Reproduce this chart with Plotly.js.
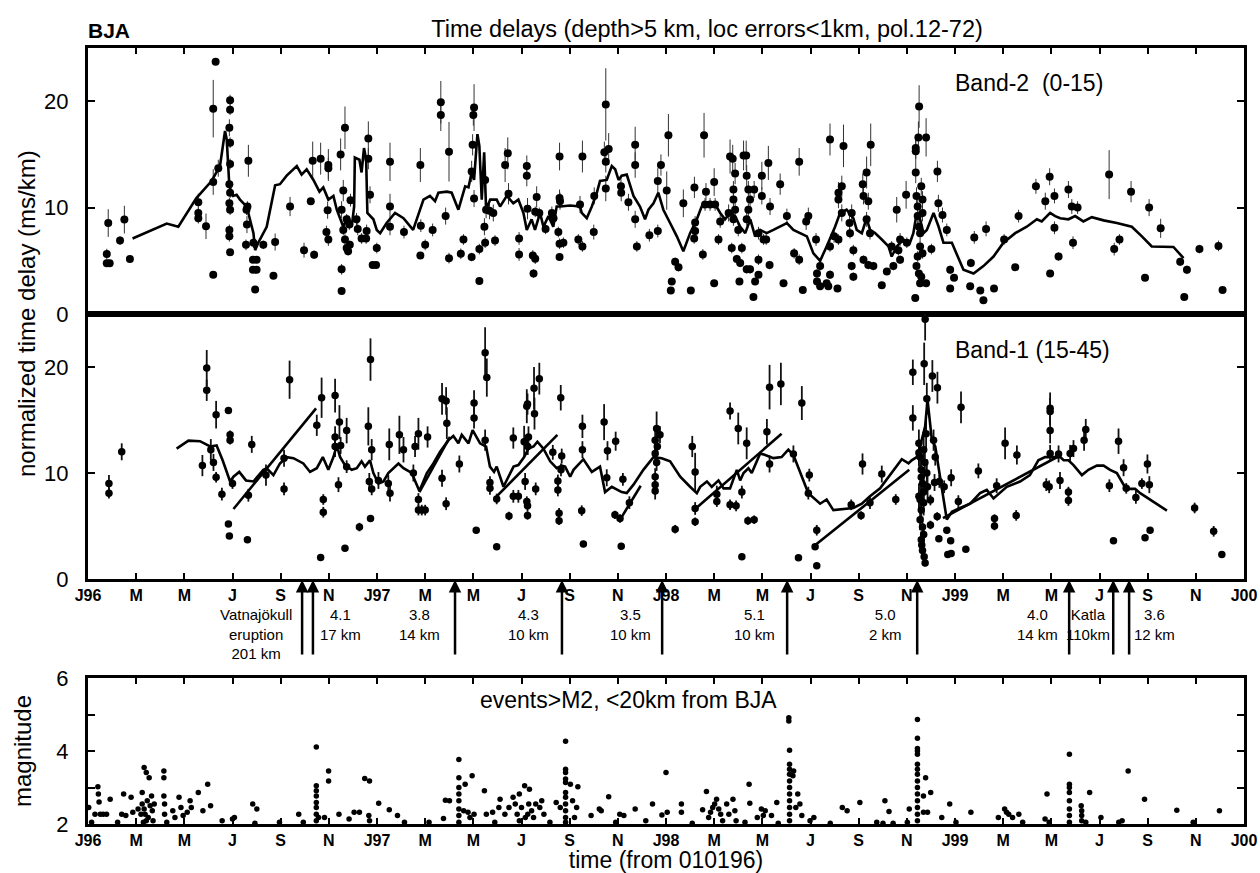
<!DOCTYPE html>
<html><head><meta charset="utf-8">
<script src="https://cdn.plot.ly/plotly-3.0.1.min.js"></script>
<style>html,body{margin:0;padding:0;background:#fff;}</style>
</head><body><div id="chart" style="width:1260px;height:873px;"></div>
<script>
// time axis: months since 1 Jan 1996
const tick_vals = [0,2,4,6,8,10,12,14,16,18,20,22,24,26,28,30,32,34,36,38,40,42,44,46,48];
const tick_text = ['J96','M','M','J','S','N','J97','M','M','J','S','N','J98','M','M','J','S','N','J99','M','M','J','S','N','J00'];

// Band-2 (0-15): time delays with error bars
const band2_t = [
0.84,0.78,0.78,0.9,1.33,1.51,1.74,4.58,4.58,4.58,
4.9,5.2,5.3,5.2,5.2,5.41,5.9,5.9,5.87,5.9,
5.9,5.87,5.9,5.87,5.9,5.87,5.87,5.9,6.66,6.62,
6.58,6.6,6.56,6.85,7.0,6.85,7.0,6.94,6.87,7.28,
7.77,7.7,8.39,8.97,9.25,9.39,9.33,9.66,9.98,9.98,
9.95,9.9,9.98,10.49,10.67,10.6,10.53,10.53,10.53,10.6,
10.67,10.74,10.8,10.87,10.74,10.85,10.9,11.15,11.2,11.36,
11.55,11.57,11.64,11.64,11.71,11.82,11.96,11.99,12.54,12.54,
12.54,13.12,13.8,13.8,14.0,13.82,14.31,14.65,14.65,14.99,
14.85,14.99,15.48,15.59,15.93,16.03,16.0,15.97,15.93,16.03,
16.25,16.25,16.46,16.49,16.49,16.53,16.67,16.83,16.9,17.32,
17.43,17.46,17.9,17.9,18.22,18.22,18.25,18.47,18.57,18.5,
18.63,18.57,18.74,19.0,19.26,19.33,19.58,19.58,19.6,19.53,
19.58,19.58,19.74,20.36,20.53,20.53,20.43,21.0,21.02,21.5,
21.44,21.62,21.5,21.5,22.13,22.14,22.44,22.72,22.72,22.72,
22.79,23.31,23.66,23.66,23.79,24.03,24.1,24.38,24.52,24.24,
24.2,24.72,25.03,25.18,25.21,25.21,25.17,25.53,25.58,25.66,
25.62,25.83,26.04,26.0,26.0,26.18,26.25,26.6,26.66,26.77,
26.87,26.8,26.8,26.87,26.8,27.0,26.73,26.94,27.08,27.15,
27.05,27.22,27.33,27.35,27.42,27.49,27.42,27.35,27.35,27.49,
27.63,27.7,27.84,27.66,27.98,27.98,27.84,27.84,28.05,28.16,
28.25,28.3,28.32,28.74,28.88,29.02,29.32,29.53,29.53,29.68,
29.82,29.91,30.23,30.27,30.27,30.4,30.74,31.12,30.67,30.4,
30.81,30.81,30.81,31.37,31.16,31.16,31.3,30.98,31.16,31.3,
31.71,31.62,31.64,31.78,31.71,31.78,32.17,32.2,32.33,32.4,
32.5,32.33,32.47,32.2,32.4,32.61,32.96,33.17,33.44,33.37,
33.72,33.65,33.58,33.72,34.0,33.97,34.35,34.37,34.37,34.37,
34.51,34.48,34.8,34.4,34.45,34.45,34.5,34.55,34.6,34.65,
34.45,34.5,34.6,34.8,34.55,34.4,34.65,34.55,34.65,35.02,
35.27,35.31,35.48,35.66,35.8,35.8,35.96,36.66,36.63,36.8,
37.05,37.18,37.29,37.62,38.04,38.5,38.64,39.36,39.75,39.93,
39.95,40.13,40.13,40.3,40.71,40.85,41.09,40.9,42.4,42.61,
42.83,43.31,43.89,44.06,44.54,45.35,45.63,45.52,46.15,46.94,
47.11];
const band2_v = [
8.55,5.63,4.78,4.78,6.9,8.87,5.16,10.5,9.5,9.0,
8.24,19.3,23.7,3.7,12.4,13.7,20.1,19.2,17.5,16.1,
14.1,12.2,11.4,10.4,9.8,7.9,7.3,5.8,14.4,10.1,
9.8,8.4,6.5,5.1,5.1,4.15,4.15,2.3,6.7,6.5,
6.76,3.6,10.1,6.0,10.6,5.57,14.4,14.6,14.0,13.7,
9.75,7.7,7.0,15.0,17.5,11.6,9.8,4.2,2.17,7.9,
7.0,6.2,5.9,6.5,8.9,8.4,10.7,8.9,8.0,7.1,
7.1,7.8,16.5,14.6,11.2,4.6,4.6,6.2,14.3,10.1,
8.2,7.7,14.0,5.5,6.5,8.3,7.9,19.9,18.7,15.25,
9.2,5.25,5.66,7.0,5.35,19.4,18.7,15.9,13.4,10.85,
6.1,3.1,8.2,6.7,12.6,9.8,9.7,9.5,6.9,14.0,
15.1,11.3,7.1,5.6,13.9,13.0,9.9,5.5,5.2,3.8,
11.0,9.6,9.5,8.0,9.5,9.0,14.8,10.9,10.6,7.7,
6.6,5.35,6.7,7.0,6.35,14.8,10.3,7.7,11.1,19.7,
15.2,15.5,14.3,11.8,12.0,11.4,10.5,15.9,14.0,8.9,
6.35,7.4,7.8,12.5,14.0,11.6,16.8,4.9,4.4,3.05,
2.2,10.4,2.2,11.9,8.6,7.8,7.1,5.6,16.8,11.5,
10.3,10.3,10.3,12.4,2.9,7.0,8.7,9.5,14.8,14.6,
13.2,11.7,10.75,9.8,8.9,7.9,6.2,5.16,4.8,6.2,
3.05,14.9,14.9,13.0,11.7,10.75,9.8,8.9,4.2,4.2,
1.6,3.05,3.7,11.7,13.0,11.1,7.6,5.1,7.0,7.0,
14.2,4.6,10.1,12.2,2.9,9.2,5.7,14.3,5.1,2.26,
8.7,9.2,7.0,3.8,3.05,2.6,2.6,2.4,2.9,4.5,
3.7,6.35,16.4,15.8,11.4,10.75,12.0,7.3,7.0,9.5,
9.5,8.55,7.6,6.0,4.5,3.5,12.2,11.1,13.3,10.6,
15.9,8.9,7.6,5.1,4.6,4.5,2.7,4.0,4.5,6.35,
5.1,6.0,9.8,7.0,6.7,11.2,1.5,13.3,15.3,15.6,
19.5,16.6,16.6,11.1,10.1,9.2,8.2,7.6,12.0,10.75,
5.4,3.8,3.5,2.9,2.9,4.5,5.7,6.35,9.5,6.1,
13.4,10.4,9.3,7.9,4.15,2.4,3.4,4.8,2.6,7.2,
2.2,1.3,8.0,2.4,7.0,4.4,9.2,12.0,10.6,12.9,
3.8,11.1,8.1,5.4,11.7,10.1,10.0,6.7,13.1,6.1,
7.0,11.5,3.4,10.0,8.05,4.9,4.15,1.6,6.1,6.4,
2.26];
const band2_e = [
1.3,0.5,0.3,0.3,0.4,1.3,0.3,0.8,0.5,0.5,
1.2,2.7,0,0,1.2,0.8,0.5,0.5,0.8,0.5,
0.5,0.8,0.5,0.5,0.5,0.5,0.5,0,1.5,0.5,
0.5,0.8,0.5,0.3,0.3,0.3,0.3,0,0.5,0.4,
0.8,0,0.9,0.7,0.3,0.4,1.8,1.5,1.5,1.0,
0.8,0.6,0.6,1.5,2.0,1.0,0.8,0.5,0,0.5,
0.5,0.5,0.4,0.4,0.5,0.5,0.6,0.6,0.6,0.5,
0.5,0.6,1.6,1.0,0.8,0.3,0.3,0.5,1.8,1.2,
0.8,0.6,1.6,0,0.5,0.6,0.6,2.0,1.5,2.8,
0.8,0.5,0.5,0.5,0.4,2.2,1.0,1.0,1.0,0.8,
0.5,0,0.8,0.5,1.2,0.8,0.8,0.8,0.5,1.6,
1.5,1.0,0.6,0.6,1.0,1.0,1.0,0.5,0.5,0.4,
1.0,0.5,0.5,0.5,0.6,0.6,1.3,0.8,0.8,0.5,
0.5,0,0.5,0.5,0.5,1.5,0.8,0.7,0.8,3.4,
1.0,1.5,1.0,1.2,0.8,0.8,0.8,1.7,1.2,0.8,
0.5,0.6,0.6,1.2,1.0,1.8,2.0,0.4,0.4,0,
0,1.3,0,1.0,0.6,0.6,0.5,0.5,2.1,0.8,
0.6,0.6,0.6,1.3,0,0.5,0.6,0.8,1.6,1.3,
1.0,0.8,0.8,0.8,0.6,0.6,0.5,0.4,0.4,0.5,
0,1.4,1.4,1.0,0.8,0.8,0.6,0.6,0.4,0.4,
0,0,0,0.8,1.3,0.8,0.6,0.5,0.5,0.5,
1.6,0.4,0.8,1.0,0,0.7,0.5,1.3,0.5,0,
0.8,0.8,0.6,0.4,0.3,0,0,0,0,0.4,
0.4,0.5,1.5,2.0,1.0,0.8,1.0,0.6,0.5,0.8,
0.8,0.7,0.5,0.5,0.4,0.4,1.0,0.8,1.5,0.8,
2.0,0.7,0.6,0.4,0.4,0.4,0,0.3,0.4,0.5,
0.4,0.5,1.2,0.6,0.5,1.3,0,1.0,1.0,1.0,
2.0,1.5,1.8,0.8,0.8,0.8,0.8,0.8,0.8,0.8,
0.5,0.3,0.3,0,0,0.3,0.5,0.5,0.8,0.5,
1.0,0.8,0.7,0.6,0.4,0,0.3,0.4,0,0.6,
0,0,0.7,0,0.5,0,0.6,0.7,0.8,0.8,
0,0.7,0.6,0.4,0.8,0.7,0.6,0.6,2.3,0.6,
0.5,1.0,0,0.8,0.9,0.4,0.4,0,0.4,0.5,
0];

// Band-2 running average line
const band2Line_t = [1.85,3.27,3.75,4.5,5.13,5.48,5.69,5.76,5.87,6.03,6.17,6.31,6.59,6.87,6.94,7.07,7.42,7.77,7.97,8.25,8.67,8.87,9.08,9.36,9.61,9.77,9.98,10.19,10.33,10.47,10.6,10.8,10.95,11.05,11.08,11.27,11.36,11.46,11.55,11.6,11.85,11.99,12.13,12.4,12.75,13.1,13.5,13.93,14.2,14.41,14.55,14.9,15.1,15.38,15.66,15.8,15.93,16.03,16.17,16.25,16.35,16.45,16.53,16.7,16.97,17.11,17.39,17.66,17.87,18.08,18.22,18.42,18.56,18.77,18.91,19.12,19.32,19.46,19.6,20.02,20.43,20.5,20.71,20.92,21.13,21.26,21.54,21.75,21.89,22.03,22.16,22.37,22.65,22.92,23.13,23.27,23.48,23.68,23.89,24.17,24.45,24.72,25.0,25.28,25.48,25.83,26.04,26.25,26.45,26.66,26.87,27.08,27.29,27.5,27.7,27.91,28.18,28.46,28.74,29.02,29.29,29.57,29.85,30.12,30.4,30.67,31.02,31.23,31.5,31.78,31.92,32.13,32.33,32.47,32.68,32.96,33.24,33.37,33.58,33.86,34.13,34.27,34.41,34.55,34.69,34.83,35.11,35.32,35.52,35.87,36.35,36.77,37.18,37.6,38.01,38.5,38.98,39.4,39.6,39.95,40.16,40.37,40.71,40.99,41.33,41.68,42.17,42.72,43.34,43.76,44.17,45.07,45.49];
const band2Line_v = [7.1,8.5,8.2,10.9,12.5,13.9,17.2,16.4,12.0,11.1,11.2,10.75,10.1,7.6,6.0,6.7,8.2,12.1,12.2,13.0,13.9,13.1,13.6,12.6,11.5,11.9,10.75,11.1,9.8,8.9,8.2,9.2,8.2,10.1,14.7,14.5,13.3,15.6,14.5,9.5,8.9,7.9,7.6,8.55,9.5,9.0,7.9,10.75,11.1,10.6,11.4,11.5,11.4,9.8,12.0,11.9,13.3,12.6,16.9,15.8,10.75,15.2,9.8,10.75,10.75,10.1,11.1,10.4,10.75,9.5,7.9,8.9,7.9,9.5,8.2,9.2,8.2,10.1,10.1,10.2,10.1,9.5,9.0,10.1,11.4,12.5,12.6,13.9,13.6,12.6,13.0,13.1,11.1,10.1,8.9,9.8,10.4,11.4,9.8,8.55,7.3,5.9,7.6,8.9,10.1,10.3,10.3,9.5,8.9,9.5,9.2,8.2,7.6,8.9,7.3,7.9,7.6,7.9,8.2,8.55,7.9,7.6,7.3,5.7,5.0,6.35,8.2,9.5,9.8,9.0,7.9,7.6,9.0,7.9,7.6,7.0,6.35,5.4,6.35,7.0,6.7,7.6,9.5,8.9,7.6,7.9,9.5,8.2,6.7,6.7,4.15,3.8,4.5,5.4,6.7,7.6,8.2,8.9,8.7,9.5,9.2,9.0,8.9,9.2,8.7,9.1,8.8,8.55,8.2,7.3,6.35,6.3,5.25];

// Band-1 (15-45): time delays with error bars
const band1_t = [
0.87,0.87,1.4,4.75,4.93,4.93,5.1,5.21,5.32,5.32,
5.56,5.83,5.9,5.9,5.83,5.87,6.0,6.62,6.8,6.66,
7.39,8.14,8.37,8.14,9.5,9.7,9.66,9.77,9.77,10.26,
10.26,10.26,10.4,10.44,10.49,10.74,10.67,10.74,11.27,11.64,
11.73,11.78,11.68,11.78,11.73,12.06,12.51,12.47,12.54,12.93,
13.1,13.51,13.58,13.72,13.72,13.72,13.86,14.0,14.1,14.7,
14.87,14.9,14.7,14.87,15.42,16.03,16.03,16.12,16.49,16.56,
16.49,16.69,16.69,16.97,16.97,17.48,17.66,17.66,17.87,18.11,
18.22,18.25,18.26,18.15,18.22,18.25,18.25,18.29,18.52,18.54,
18.59,18.74,19.3,19.51,19.51,19.56,19.56,19.67,19.63,19.64,
20.53,20.53,20.5,20.57,21.43,21.57,21.54,21.91,21.88,22.09,
22.14,22.21,22.48,23.61,23.55,23.64,23.75,23.55,23.61,23.55,
23.55,23.55,24.38,25.09,25.21,25.21,25.21,26.11,26.11,26.66,
27.0,27.35,26.66,26.91,27.15,27.4,27.66,27.15,28.19,28.3,
28.3,28.77,29.29,29.5,29.64,29.95,29.91,30.26,30.19,30.26,
31.69,32.1,32.16,32.47,32.96,33.54,34.25,34.25,34.76,34.72,
35.06,35.27,34.83,34.5,34.55,34.6,34.65,34.5,34.6,34.65,
34.6,34.65,34.72,34.76,34.55,34.7,34.8,34.83,34.86,34.5,
34.7,34.75,34.6,34.7,34.55,34.7,34.62,35.11,35.18,35.15,
35.35,35.55,34.98,34.98,35.26,35.33,35.82,35.7,35.84,35.66,
35.84,36.45,36.25,36.14,36.97,37.73,37.64,37.64,38.08,38.57,
38.54,39.79,39.91,39.95,39.95,39.95,39.95,40.3,40.36,40.71,
40.71,40.78,40.92,41.36,41.43,42.41,42.58,42.79,43.0,43.11,
43.51,43.76,43.99,44.07,43.89,44.1,45.95,46.74,47.08];
const band1_v = [
9.0,8.1,12.0,10.7,19.9,17.8,12.2,11.0,15.5,9.6,
8.0,15.9,13.6,13.1,5.2,4.06,9.0,3.7,12.7,7.9,
9.8,8.5,18.8,11.4,14.5,17.1,2.04,7.5,6.3,17.3,
13.4,12.5,8.9,14.8,12.6,14.0,2.9,10.6,4.9,14.4,
20.7,12.2,9.2,8.5,5.7,9.3,12.7,9.0,8.1,13.6,
12.2,10.0,12.5,13.7,7.5,6.5,6.5,6.5,13.4,17.0,
16.8,14.7,9.5,7.1,10.85,16.6,15.2,4.6,21.35,19.0,
13.1,9.1,8.55,7.55,3.05,5.95,13.3,7.8,7.8,12.95,
16.3,16.5,12.5,9.2,7.3,6.9,6.0,13.4,18.0,15.6,
8.5,18.9,11.95,9.25,8.4,6.2,5.5,11.6,17.1,10.3,
14.4,12.2,6.45,3.3,14.8,12.1,9.55,13.0,6.05,5.7,
3.1,9.4,7.2,14.2,13.1,12.5,13.6,11.85,11.0,9.65,
8.9,8.3,4.7,12.5,10.1,6.65,5.4,8.0,7.3,15.85,
14.2,12.8,7.0,6.9,8.2,5.5,5.6,2.1,13.9,18.1,
10.85,18.4,11.8,2.0,16.6,9.8,8.1,4.6,3.05,1.26,
7.0,6.0,10.85,7.2,9.9,7.5,19.5,15.2,24.5,20.3,
19.15,18.05,17.0,12.8,11.5,10.3,9.0,7.8,6.5,4.9,
3.7,2.7,2.1,1.5,7.5,7.2,13.7,10.0,8.7,11.9,
12.2,11.0,9.6,8.2,5.6,4.2,3.2,13.1,11.5,9.1,
9.2,8.7,7.45,5.1,5.9,3.8,3.6,2.3,2.4,4.6,
9.55,2.8,16.2,7.3,10.2,8.8,5.7,5.0,12.8,11.7,
6.0,8.9,8.7,16.1,15.8,14.0,11.85,11.8,9.3,8.2,
7.4,11.85,12.3,13.1,14.1,8.8,3.6,13.0,10.5,8.55,
7.7,9.0,10.85,8.9,3.9,4.6,6.7,4.5,2.3];
const band1_e = [
0.8,0.5,0.8,1.0,1.7,1.0,1.0,0.8,1.3,0.5,
0.6,0.3,0.4,0.4,0,0,0.5,0,0.8,0.6,
1.0,0.6,1.8,0.8,1.0,1.9,0,0.5,0.5,1.6,
1.0,1.0,0.7,1.6,0.8,1.2,0,0.6,0.4,1.8,
2.0,1.0,0.8,0.6,0.3,0.8,1.5,0.8,0.8,1.8,
1.2,0.8,1.0,1.5,0.6,0.5,0.5,0.5,1.0,1.5,
1.3,1.5,0.8,0.6,0.8,1.2,1.0,0.3,2.4,1.8,
1.0,0.6,0.6,0.5,0,0.4,1.0,0.6,0.6,1.5,
1.6,1.0,0.8,0.8,0.5,0.5,0.4,1.0,2.0,1.5,
0.6,1.5,0.7,0.6,0.6,0.5,0.4,0.7,1.2,0.6,
1.1,0.8,0.5,0.3,1.7,0.9,0.8,0.9,0.4,0.4,
0.3,0.6,0.6,1.6,1.0,0.8,0.8,0.8,0.8,0.8,
0.8,0.8,0.4,1.0,1.8,0.6,0.4,0.8,0.5,0.8,
1.5,1.5,0.5,0.5,0.6,0.4,0.4,0,1.2,2.1,
0.8,2.0,0.8,0,1.6,0.6,0.6,0.5,0.3,0,
0.5,0.4,1.0,0.6,0.8,0.5,1.2,1.2,2.0,2.0,
1.5,1.5,1.5,1.3,1.3,1.3,1.3,1.2,1.2,1.0,
0.8,0.5,0.4,0.3,1.2,1.2,1.5,1.3,1.3,1.3,
1.3,1.3,1.3,1.2,1.0,0.8,0.6,1.0,0.8,0.8,
0.6,0.6,0.5,0.4,0.4,0.3,0.3,0,0,0.3,
0.8,0,1.5,0.6,0.7,0.7,0.4,0.4,1.5,0.9,
0.5,0.6,0.6,1.5,1.3,1.2,0.8,0.8,0.8,0.5,
0.5,0.8,0.8,1.0,1.0,0.6,0,1.2,0.8,0.5,
0.6,0.5,0.9,0.8,0.3,0.3,0.5,0.5,0];

// Band-1 running average line
const band1Line_t = [3.68,4.17,4.65,5.07,5.34,5.59,5.9,6.04,6.28,6.56,6.87,7.28,7.42,7.7,7.97,8.25,8.53,8.94,9.22,9.5,9.75,9.98,10.19,10.33,10.47,10.67,10.95,11.16,11.36,11.5,11.71,11.85,12.06,12.27,12.47,12.89,13.1,13.44,13.76,14.07,14.34,14.62,14.97,15.17,15.38,15.52,15.8,15.97,16.28,16.53,16.69,16.86,16.97,17.25,17.67,17.87,18.11,18.29,18.5,18.66,18.91,19.19,19.46,19.67,19.81,20.02,20.16,20.57,20.92,21.26,21.47,21.75,22.16,22.37,22.65,23.06,23.48,23.82,24.17,24.59,25.0,25.28,25.42,25.7,25.9,26.18,26.39,26.66,26.94,27.08,27.22,27.42,27.56,27.91,28.12,28.46,28.8,29.08,29.29,29.57,29.91,30.4,30.67,30.95,31.37,31.78,32.13,32.47,32.89,33.3,33.79,34.07,34.2,34.41,34.55,34.76,34.86,35.04,35.18,35.66,35.87,36.21,36.63,37.04,37.32,37.6,37.87,38.15,38.7,39.11,39.46,39.74,40.09,40.37,40.51,40.71,40.92,41.27,41.54,41.89,42.17,42.44,42.72,43.0,43.14,43.48,43.69,44.03,44.38,44.8];
const band1Line_v = [12.3,13.05,13.0,12.5,12.6,11.2,9.2,9.65,10.1,9.3,9.2,10.3,10.45,9.8,10.9,11.5,11.4,10.9,10.1,10.45,11.5,10.3,11.5,12.6,11.5,10.75,10.3,10.45,11.1,10.6,11.2,10.0,9.0,9.2,10.0,10.9,10.45,10.0,8.3,10.0,10.9,12.0,13.1,13.5,12.8,13.6,12.8,14.05,12.8,12.5,10.6,10.1,10.6,8.7,10.6,10.75,11.5,12.3,12.5,12.95,12.3,11.1,10.45,10.7,10.6,9.65,10.3,11.3,10.1,10.6,8.2,8.7,8.2,8.1,8.9,10.3,11.5,11.4,11.1,9.65,8.7,8.1,8.7,9.2,8.7,9.3,8.55,8.55,10.3,9.3,10.0,10.45,10.0,11.85,11.7,11.4,11.5,12.2,11.7,10.0,8.1,7.1,7.5,6.5,6.6,6.7,7.1,7.8,8.55,9.8,11.3,10.9,11.2,11.5,12.5,14.4,16.9,13.1,12.5,5.6,6.35,6.7,7.1,8.1,8.4,7.6,8.1,8.7,9.2,9.8,11.2,11.5,11.5,11.5,11.2,11.2,10.75,9.8,10.3,10.7,10.7,10.3,10.0,8.9,8.5,8.5,8.1,7.6,7.1,6.45];

// Band-1 linear trend segments (null separates segments)
const trend_t = [6.04,9.47,null,13.76,15.03,null,16.97,19.49,null,22.12,22.95,null,25.21,28.8,null,30.2,34.1,null,35.5,40.4];
const trend_v = [6.6,16.1,null,8.2,13.4,null,7.8,13.6,null,5.7,8.8,null,6.6,13.7,null,3.2,10.3,null,5.75,11.7];

// events > M2 within 20 km of BJA
const mag_t = [
0.03,0.15,0.29,0.41,0.43,0.46,0.51,0.63,0.77,0.92,
1.23,1.4,1.48,1.57,1.79,1.86,2.08,2.25,2.33,2.42,
2.54,2.64,2.25,2.33,2.37,2.42,2.5,2.58,2.67,2.75,
2.2,2.3,2.46,2.7,3.15,3.15,3.15,3.18,3.18,3.27,
3.52,3.61,3.78,3.86,3.95,4.24,4.29,4.12,4.58,4.77,
4.97,5.09,5.57,6.0,6.08,6.84,7.01,6.93,7.95,8.75,
8.94,9.48,9.48,9.48,9.48,9.48,9.48,9.48,9.48,9.57,
9.82,9.99,9.99,10.42,10.84,11.05,11.27,11.49,11.69,11.66,
11.69,12.07,12.51,12.85,13.14,14.16,14.76,14.84,15.01,15.4,
15.4,15.4,15.4,15.4,15.4,15.4,15.4,15.66,15.95,15.6,
15.78,15.86,16.03,16.46,16.54,16.8,16.89,17.11,17.06,17.31,
17.48,17.65,17.74,17.91,18.13,18.0,17.82,18.16,17.91,18.33,
18.3,18.42,18.5,18.26,18.59,18.76,18.84,18.93,19.18,19.44,
19.61,19.83,19.83,19.83,19.83,19.83,19.83,19.83,19.83,19.83,
19.83,19.83,20.03,20.34,20.12,20.29,20.2,20.89,21.23,21.31,
21.62,21.91,22.08,22.25,22.72,23.16,23.44,23.83,24.0,24.05,
24.64,24.64,25.09,25.52,25.68,25.77,25.85,25.94,26.02,26.1,
26.19,26.27,26.35,26.52,26.61,26.78,26.86,26.91,27.28,27.45,
27.48,27.79,27.96,28.04,28.12,28.38,28.6,28.66,29.1,29.1,
29.13,29.13,29.13,29.13,29.13,29.13,29.13,29.13,29.13,29.13,
29.13,29.3,29.27,29.39,29.47,29.56,29.64,29.98,30.14,30.82,
31.32,31.52,32.05,32.75,33.01,33.43,33.09,33.26,34.02,34.1,
34.44,34.44,34.44,34.44,34.44,34.44,34.44,34.44,34.44,34.44,
34.44,34.44,34.44,34.44,34.44,34.69,34.78,34.69,34.99,34.86,
35.45,35.78,36.04,36.66,37.8,38.06,38.14,38.23,38.39,38.65,
38.81,39.74,39.82,39.91,40.75,40.75,40.75,40.75,40.75,40.75,
40.75,40.75,41.24,41.26,41.26,41.26,41.43,41.59,42.06,42.8,
42.94,43.19,43.87,45.21,45.89,46.98];
const mag_v = [
2.45,2.05,2.27,3.02,2.82,2.6,2.27,2.27,2.27,2.68,
2.05,2.27,2.82,2.23,2.73,2.32,2.41,2.86,3.55,3.41,
3.27,2.77,2.55,2.41,2.27,2.09,2.18,2.5,2.36,2.55,
2.27,2.05,2.64,2.09,3.45,3.27,2.77,2.55,2.27,2.05,
2.36,2.18,2.73,2.45,2.23,2.64,2.45,2.32,2.86,2.36,
3.09,2.5,2.09,2.14,2.18,2.55,2.41,2.02,2.05,2.27,
2.05,4.11,3.05,2.91,2.77,2.59,2.45,2.27,2.09,2.18,
2.18,3.45,3.18,2.27,2.14,2.32,2.32,3.25,3.18,2.23,
2.09,2.57,2.39,2.23,2.05,2.05,2.15,2.65,2.64,3.77,
3.27,3.0,2.82,2.64,2.41,2.23,2.05,3.09,3.32,2.36,
2.32,2.18,2.27,2.91,2.27,2.32,2.05,2.68,2.45,2.27,
2.45,2.73,2.55,2.82,3.05,2.45,2.27,2.18,2.09,2.95,
2.55,2.36,2.18,2.27,2.55,2.45,2.64,2.27,2.05,2.59,
2.45,4.27,3.5,3.41,3.23,3.14,2.86,2.73,2.55,2.36,
2.18,2.05,3.09,3.02,2.64,2.45,2.18,2.23,2.41,2.36,
2.75,2.05,2.27,2.23,2.41,2.09,2.55,2.25,3.41,2.32,
2.55,2.32,2.02,2.39,2.89,2.18,2.32,2.45,2.55,2.68,
2.41,2.27,2.09,2.55,2.27,2.68,2.36,2.09,2.05,3.09,
2.57,2.18,2.41,2.23,2.36,2.23,2.59,2.02,4.91,4.82,
4.02,3.64,3.5,3.36,3.18,3.0,2.82,2.64,2.45,2.27,
2.09,3.45,3.32,2.45,2.82,2.55,2.23,2.09,2.18,2.02,
2.45,2.36,2.59,2.05,2.02,2.02,2.64,2.34,2.05,2.41,
4.86,4.35,4.07,4.0,3.91,3.64,3.5,3.36,3.18,3.0,
2.82,2.64,2.45,2.27,2.09,2.77,3.27,2.32,2.86,2.32,
2.18,2.55,2.05,2.32,2.18,2.41,2.32,2.27,2.18,2.27,
2.05,2.14,2.82,2.05,3.91,3.09,3.0,2.86,2.64,2.41,
2.23,2.05,2.5,2.36,2.23,2.09,2.05,2.86,2.18,2.05,
2.09,3.45,2.68,2.38,2.05,2.36];

// earthquake / eruption arrows and their labels
const event_t = [8.89,9.34,15.24,19.68,23.84,29.03,34.43,40.74,42.57,43.23];
const label_t = [6.98,10.47,13.75,18.31,22.51,27.66,33.1,39.41,41.53,44.27];
const label_text = ['Vatnajökull<br>eruption<br>201 km','4.1<br>17 km','3.8<br>14 km','4.3<br>10 km','3.5<br>10 km','5.1<br>10 km','5.0<br>2 km','4.0<br>14 km','Katla<br>110km','3.6<br>12 km'];

const FONT = '"Liberation Sans", Arial, Helvetica, sans-serif';
const PL = 88, PT = 48, PW = 1156, PH = 776;
const py = p => (PT + PH - p) / PH;
const px = p => (p - PL) / PW;

const traces = [
  {type:'scatter', mode:'markers', x: band2_t, y: band2_v, xaxis:'x', yaxis:'y',
   marker:{color:'#000', size:8}, error_y:{type:'data', array: band2_e, visible:true, color:'#333', thickness:1, width:0}},
  {type:'scatter', mode:'lines', x: band2Line_t, y: band2Line_v, xaxis:'x', yaxis:'y', line:{color:'#000', width:2.6}},
  {type:'scatter', mode:'markers', x: band1_t, y: band1_v, xaxis:'x2', yaxis:'y2',
   marker:{color:'#000', size:7.5}, error_y:{type:'data', array: band1_e, visible:true, color:'#111', thickness:1.8, width:0}},
  {type:'scatter', mode:'lines', x: band1Line_t, y: band1Line_v, xaxis:'x2', yaxis:'y2', line:{color:'#000', width:2.6}},
  {type:'scatter', mode:'lines', x: trend_t, y: trend_v, xaxis:'x2', yaxis:'y2', connectgaps:false, line:{color:'#000', width:2.6}},
  {type:'scatter', mode:'markers', x: mag_t, y: mag_v, xaxis:'x3', yaxis:'y3', cliponaxis:false,
   marker:{color:'#000', size:5.5}}
];

const xCommon = {range:[0,48], tickvals: tick_vals, ticktext: tick_text, ticks:'inside', ticklen:6, tickwidth:2,
  tickcolor:'#000', showline:true, linewidth:3, linecolor:'#000', showgrid:false, zeroline:false,
  tickfont:{family:FONT, size:16, weight:'bold', color:'#000'}};
const yCommon = {ticks:'inside', ticklen:7, tickwidth:2, tickcolor:'#000', showline:true, linewidth:3, linecolor:'#000',
  mirror:'ticks', showgrid:false, zeroline:false, tickfont:{family:FONT, size:22, color:'#000'}, ticklabelstandoff:12};

const annotations = [
  {xref:'paper', yref:'paper', x: px(86), y: py(30), xanchor:'left', yanchor:'middle', showarrow:false,
   text:'BJA', font:{family:FONT, size:21, weight:'bold', color:'#000'}},
  {xref:'paper', yref:'paper', x: px(26), y: py(314), xanchor:'center', yanchor:'middle', showarrow:false, textangle:-90,
   text:'normalized time delay (ms/km)', font:{family:FONT, size:24, color:'#000'}},
  {xref:'paper', yref:'paper', x: px(953), y: py(83), xanchor:'left', yanchor:'middle', showarrow:false,
   text:'Band-2  (0-15)', font:{family:FONT, size:23, color:'#000'}},
  {xref:'paper', yref:'paper', x: px(953), y: py(350), xanchor:'left', yanchor:'middle', showarrow:false,
   text:'Band-1 (15-45)', font:{family:FONT, size:23, color:'#000'}},
  {xref:'paper', yref:'paper', x: px(628), y: py(700), xanchor:'center', yanchor:'middle', showarrow:false,
   text:'events>M2, <20km from BJA', font:{family:FONT, size:23, color:'#000'}}
];
event_t.forEach(t => annotations.push({xref:'x2', yref:'paper', x:t, y: py(580), ax:0, ay:76, axref:'pixel', ayref:'pixel',
  showarrow:true, arrowhead:2, arrowsize:1, arrowwidth:2.5, arrowcolor:'#000', text:'', standoff:0}));
label_t.forEach((t,i) => annotations.push({xref:'x2', yref:'paper', x:t, y: py(604), xanchor:'center', yanchor:'top',
  showarrow:false, text: label_text[i], align:'center', font:{family:FONT, size:15, color:'#000'}}));

const layout = {
  width:1260, height:873, margin:{l:PL, r:16, t:PT, b:49},
  paper_bgcolor:'#fff', plot_bgcolor:'#fff', showlegend:false,
  font:{family:FONT, color:'#000', size:16},
  title:{text:'Time delays (depth>5 km, loc errors<1km, pol.12-72)', x:707/1260, xanchor:'center', xref:'container',
         y:1-29/873, yanchor:'middle', yref:'container', font:{family:FONT, size:23.5, color:'#000'}},
  xaxis:{...xCommon, anchor:'y', side:'top', showticklabels:false, mirror:true},
  xaxis2:{...xCommon, anchor:'y2', mirror:true, matches:'x'},
  xaxis3:{...xCommon, anchor:'y3', mirror:'ticks', matches:'x',
          title:{text:'time (from 010196)', font:{family:FONT, size:23, color:'#000'}, standoff:2}},
  yaxis:{...yCommon, domain:[py(314),1], range:[0,25], tickvals:[0,10,20]},
  yaxis2:{...yCommon, domain:[py(579),py(314)], range:[0,25], tickvals:[0,10,20]},
  yaxis3:{...yCommon, domain:[0,py(678)], range:[2,6], tickvals:[2,3,4,5,6], ticktext:['2','','4','','6'],
          title:{text:'magnitude', font:{family:FONT, size:24, color:'#000'}, standoff:18}},
  annotations: annotations
};

Plotly.newPlot('chart', traces, layout, {staticPlot:true, displayModeBar:false});
</script></body></html>
